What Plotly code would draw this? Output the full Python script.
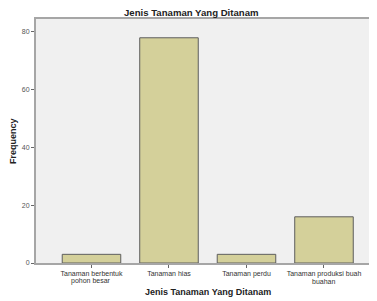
import plotly.graph_objects as go

categories = ["Tanaman berbentuk<br>pohon besar", "Tanaman hias", "Tanaman perdu", "Tanaman produksi buah<br>buahan"]
frequencies = [3, 78, 3, 16]
y_ticks = [0, 20, 40, 60, 80]

first_lines = [c.split("<br>")[0] for c in categories]
second_lines = [c.split("<br>")[1] if "<br>" in c else "" for c in categories]

fig = go.Figure(go.Bar(
    x=list(range(len(categories))),
    y=frequencies,
    marker=dict(color="#d4d09a", line=dict(color="#5e5e5e", width=1)),
    width=0.755,
))

axis_col = "#a6a6a6"
annotations = [
    dict(text="<b>Jenis Tanaman Yang Ditanam</b>", xref="paper", yref="paper",
         x=0.457, y=1.0, yshift=6.5, xanchor="center", yanchor="middle", showarrow=False,
         font=dict(size=9.6, color="#222222")),
    dict(text="<b>Jenis Tanaman Yang Ditanam</b>", xref="paper", yref="paper",
         x=0.503, y=0, yshift=-29, xanchor="center", yanchor="middle", showarrow=False,
         font=dict(size=9, color="#222222")),
    dict(text="<b>Frequency</b>", xref="paper", yref="paper", textangle=-90,
         x=0, xshift=-23, y=0.5, xanchor="center", yanchor="middle", showarrow=False,
         font=dict(size=9, color="#222222")),
]
for i, s in enumerate(second_lines):
    if s:
        annotations.append(dict(text=s, x=i, xref="x", y=0, yref="paper", yshift=-18,
                                xanchor="center", yanchor="middle", showarrow=False,
                                font=dict(size=7, color="#333333")))

fig.update_layout(
    width=369, height=293,
    margin=dict(l=28, r=0, t=11, b=38, autoexpand=False),
    paper_bgcolor="white",
    plot_bgcolor="#f0f0f0",
    font=dict(family="Liberation Sans, Arial, sans-serif", size=7, color="#444444"),
    showlegend=False,
    xaxis=dict(
        range=[-0.716, 3.684],
        tickmode="array",
        tickvals=list(range(len(categories))),
        ticktext=first_lines,
        ticks="outside", ticklen=3, tickcolor="#666666",
        showline=True, linecolor=axis_col, linewidth=2, mirror=True,
        showgrid=False, zeroline=False,
        tickfont=dict(size=7, color="#333333"),
        automargin=False,
    ),
    yaxis=dict(
        range=[0, 84.5],
        tickmode="array",
        tickvals=y_ticks,
        ticks="outside", ticklen=3, tickcolor="#666666",
        showline=True, linecolor=axis_col, linewidth=2,
        showgrid=False, zeroline=False,
        tickfont=dict(size=7, color="#555555"),
        automargin=False,
    ),
    annotations=annotations,
)

fig.write_html("out.html")
